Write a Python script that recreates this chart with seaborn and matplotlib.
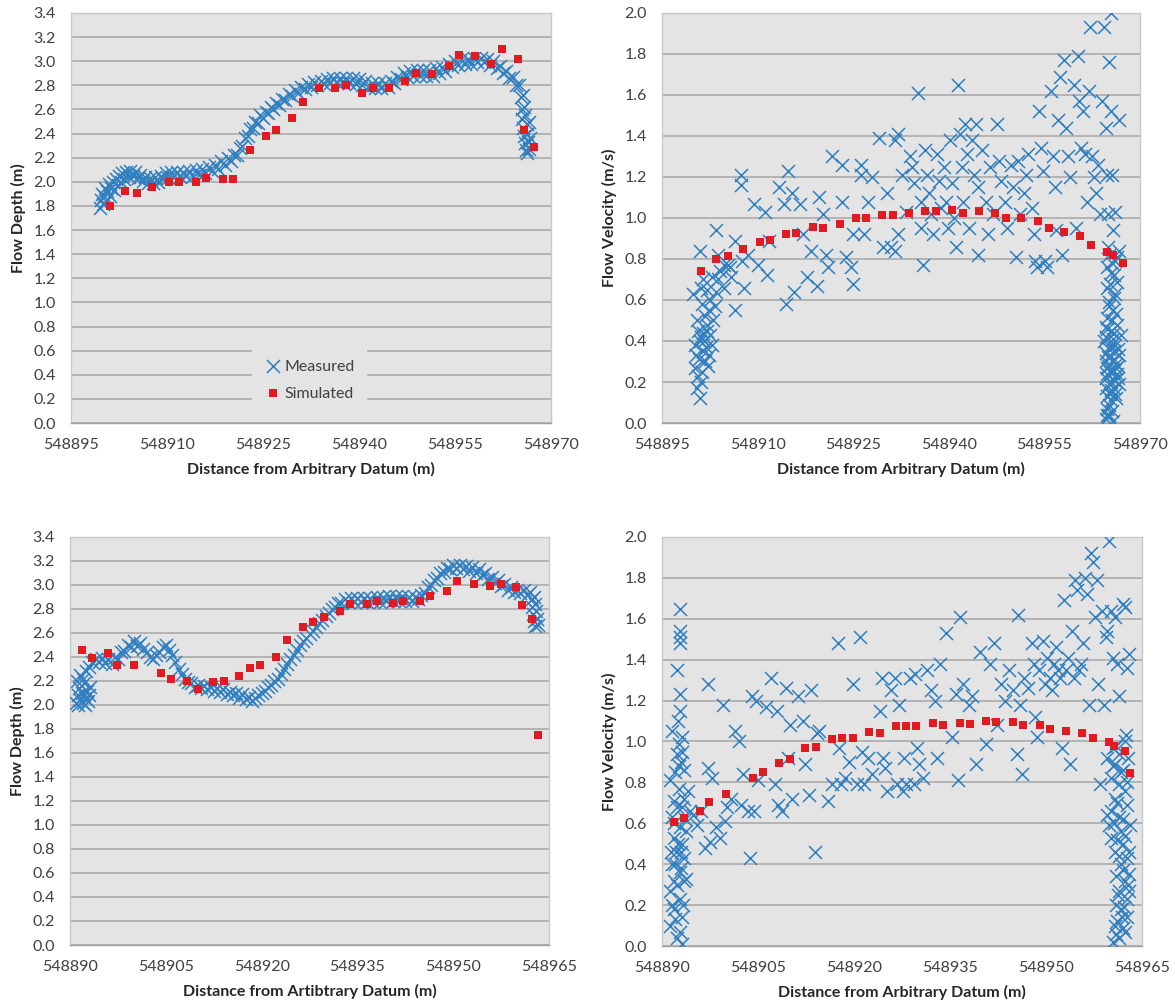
import matplotlib
matplotlib.use("Agg")
import matplotlib.pyplot as plt
import seaborn as sns
import pandas as pd
from matplotlib.ticker import FixedLocator, FormatStrFormatter

# ---------------- data ----------------
sim_x_top = [548901.1, 548903.5, 548905.3, 548907.7, 548910.3, 548911.9, 548914.5, 548916.1,
             548918.7, 548920.3, 548922.9, 548925.4, 548927.0, 548929.5, 548931.3, 548933.7,
             548936.3, 548938.0, 548940.5, 548942.2, 548944.7, 548947.2, 548948.9, 548951.4,
             548954.0, 548955.7, 548958.1, 548960.6, 548962.3, 548964.8, 548965.8, 548967.3]
tl_sim_depth = [1.80, 1.92, 1.91, 1.96, 2.00, 2.00, 2.00, 2.03, 2.02, 2.02, 2.26, 2.38, 2.43, 2.53,
                2.66, 2.78, 2.78, 2.80, 2.74, 2.78, 2.78, 2.84, 2.90, 2.89, 2.96, 3.05, 3.04, 2.98,
                3.10, 3.02, 2.43, 2.29]
tr_sim_vel = [0.74, 0.80, 0.815, 0.85, 0.885, 0.895, 0.92, 0.925, 0.955, 0.95, 0.97, 1.00, 1.00,
              1.014, 1.014, 1.024, 1.035, 1.032, 1.038, 1.025, 1.032, 1.025, 1.00, 1.00, 0.986,
              0.95, 0.93, 0.91, 0.87, 0.835, 0.82, 0.78]

sim_x_bot = [548891.8, 548893.4, 548895.9, 548897.4, 548900.0, 548904.2, 548905.8, 548908.3,
             548910.0, 548912.4, 548914.1, 548916.5, 548918.2, 548919.8, 548922.3, 548924.0,
             548926.5, 548928.1, 548929.7, 548932.3, 548933.9, 548936.5, 548938.1, 548940.6,
             548942.2, 548944.8, 548946.4, 548949.0, 548950.6, 548953.2, 548955.7, 548957.4,
             548959.8, 548960.7, 548962.4, 548963.2]
bl_sim_depth = [2.46, 2.39, 2.43, 2.33, 2.33, 2.27, 2.22, 2.20, 2.13, 2.19, 2.20, 2.24, 2.31, 2.33,
                2.40, 2.54, 2.65, 2.69, 2.73, 2.78, 2.84, 2.84, 2.87, 2.85, 2.87, 2.87, 2.91, 2.95,
                3.03, 3.01, 2.99, 3.01, 2.98, 2.83, 2.72, 1.75]
br_sim_vel = [0.607, 0.626, 0.662, 0.703, 0.741, 0.823, 0.852, 0.896, 0.916, 0.968, 0.971, 1.01,
              1.016, 1.019, 1.048, 1.043, 1.074, 1.074, 1.078, 1.091, 1.081, 1.092, 1.086, 1.10,
              1.094, 1.097, 1.083, 1.079, 1.063, 1.053, 1.04, 1.019, 0.999, 0.978, 0.955, 0.847]

tl_meas = [
    (548899.6, 1.78), (548899.7, 1.85), (548899.8, 1.90), (548900.0, 1.82), (548900.2, 1.88),
    (548900.3, 1.95), (548900.5, 1.84), (548900.7, 1.92), (548900.9, 1.98), (548901.1, 1.88),
    (548901.3, 1.95), (548901.5, 2.00), (548901.8, 1.93), (548902.0, 2.02), (548902.3, 1.97),
    (548902.5, 2.05), (548902.8, 2.00), (548903.0, 2.07), (548903.3, 2.02), (548903.6, 2.08),
    (548904.0, 2.04), (548904.3, 2.09), (548904.7, 2.05), (548905.0, 2.08), (548905.4, 2.03),
    (548905.8, 2.06), (548906.2, 2.01), (548906.6, 2.04), (548907.0, 1.99), (548907.4, 2.03),
    (548907.8, 1.99), (548908.2, 2.04), (548908.6, 2.00), (548909.0, 2.05), (548909.4, 2.02),
    (548909.8, 2.07), (548910.2, 2.03), (548910.6, 2.08), (548911.0, 2.04), (548911.5, 2.08),
    (548912.0, 2.04), (548912.5, 2.08), (548913.0, 2.05), (548913.5, 2.09), (548914.0, 2.05),
    (548914.5, 2.10), (548915.0, 2.06), (548915.5, 2.11), (548916.0, 2.07), (548916.5, 2.12),
    (548917.0, 2.09), (548917.5, 2.14), (548918.0, 2.11), (548918.5, 2.17), (548919.0, 2.14),
    (548919.5, 2.20), (548920.0, 2.17), (548920.5, 2.22), (548921.0, 2.22), (548921.4, 2.28),
    (548921.8, 2.30), (548922.2, 2.36), (548922.6, 2.38), (548923.0, 2.44), (548923.4, 2.45),
    (548923.8, 2.50), (548924.2, 2.49), (548924.6, 2.55), (548925.0, 2.53), (548925.4, 2.58),
    (548925.8, 2.57), (548926.2, 2.62), (548926.6, 2.60), (548927.0, 2.65), (548927.5, 2.64),
    (548928.0, 2.69), (548928.5, 2.68), (548929.0, 2.73), (548929.5, 2.71), (548930.0, 2.76),
    (548930.5, 2.74), (548931.0, 2.79), (548931.5, 2.77), (548932.0, 2.81), (548932.5, 2.79),
    (548933.0, 2.83), (548933.5, 2.80), (548934.0, 2.84), (548934.5, 2.81), (548935.0, 2.85),
    (548935.5, 2.82), (548936.0, 2.86), (548936.5, 2.82), (548937.0, 2.86), (548937.5, 2.82),
    (548938.0, 2.86), (548938.5, 2.82), (548939.0, 2.86), (548939.5, 2.81), (548940.0, 2.85),
    (548940.5, 2.80), (548941.0, 2.84), (548941.5, 2.78), (548942.0, 2.82), (548942.5, 2.78),
    (548943.0, 2.82), (548943.5, 2.78), (548944.0, 2.82), (548944.5, 2.79), (548945.0, 2.84),
    (548945.5, 2.82), (548946.0, 2.87), (548946.5, 2.85), (548947.0, 2.90), (548947.5, 2.87),
    (548948.0, 2.92), (548948.5, 2.88), (548949.0, 2.93), (548949.5, 2.88), (548950.0, 2.93),
    (548950.5, 2.88), (548951.0, 2.93), (548951.5, 2.88), (548952.0, 2.94), (548952.5, 2.90),
    (548953.0, 2.95), (548953.5, 2.92), (548954.0, 2.98), (548954.5, 2.95), (548955.0, 3.00),
    (548955.5, 2.97), (548956.0, 3.02), (548956.5, 2.98), (548957.0, 3.02), (548957.5, 2.98),
    (548958.0, 3.03), (548958.5, 2.99), (548959.0, 3.03), (548959.5, 2.99), (548960.0, 3.02),
    (548960.5, 2.97), (548961.0, 3.00), (548961.5, 2.94), (548962.0, 2.96), (548962.5, 2.90),
    (548963.0, 2.92), (548963.5, 2.86), (548964.0, 2.87), (548964.5, 2.80), (548965.0, 2.80),
    (548965.3, 2.70), (548965.6, 2.72), (548965.4, 2.60), (548965.8, 2.62), (548965.5, 2.52),
    (548966.0, 2.55), (548965.7, 2.45), (548966.2, 2.48), (548965.8, 2.38), (548966.3, 2.40),
    (548966.0, 2.32), (548966.4, 2.33), (548966.1, 2.26), (548966.5, 2.27), (548966.3, 2.24),
    (548966.6, 2.50), (548966.7, 2.36)]

tr_meas = [
    (548901.0, 0.12), (548900.5, 0.17), (548901.1, 0.20), (548900.2, 0.27), (548900.8, 0.31),
    (548901.4, 0.35), (548900.2, 0.38), (548901.1, 0.42), (548902.0, 0.45), (548900.5, 0.50),
    (548901.7, 0.52), (548902.6, 0.43), (548902.9, 0.38), (548902.3, 0.33), (548901.7, 0.30),
    (548899.9, 0.63), (548901.1, 0.66), (548901.0, 0.84), (548902.6, 0.60), (548903.5, 0.64),
    (548902.9, 0.71), (548904.1, 0.74), (548904.7, 0.77), (548903.5, 0.94), (548903.8, 0.82),
    (548905.3, 0.77), (548905.9, 0.71), (548904.7, 0.66), (548906.5, 0.55), (548905.6, 0.76),
    (548906.5, 0.89), (548907.6, 0.79), (548907.8, 0.66), (548907.4, 1.21), (548907.4, 1.16),
    (548908.5, 0.82), (548909.4, 1.07), (548910.0, 0.77), (548911.2, 1.03), (548911.5, 0.72),
    (548911.8, 0.89), (548913.3, 1.15), (548914.2, 1.07), (548914.5, 0.58), (548914.8, 1.23),
    (548915.4, 1.12), (548915.7, 0.64), (548916.6, 1.07), (548917.2, 0.92), (548917.8, 0.71),
    (548918.4, 0.84), (548919.3, 0.67), (548919.6, 1.10), (548920.2, 1.02), (548920.8, 0.82),
    (548921.1, 0.76), (548921.7, 1.30), (548923.2, 1.26), (548923.2, 1.08), (548923.8, 0.81),
    (548924.7, 0.76), (548925.0, 0.68), (548925.0, 0.92), (548926.2, 1.26), (548926.2, 1.21),
    (548926.7, 0.92), (548927.3, 1.08), (548927.9, 1.20), (548929.1, 1.39), (548929.7, 0.86),
    (548930.3, 1.12), (548930.9, 0.86), (548931.5, 1.38), (548932.1, 1.41), (548931.5, 0.84),
    (548932.1, 0.92), (548932.7, 1.21), (548933.3, 1.03), (548933.9, 1.30), (548934.2, 1.25),
    (548934.5, 1.17), (548935.1, 1.61), (548935.7, 1.08), (548935.7, 0.95), (548936.0, 0.77),
    (548936.3, 1.33), (548936.6, 1.21), (548936.9, 1.12), (548937.2, 1.02), (548937.5, 0.92),
    (548938.1, 1.31), (548938.4, 1.18), (548938.7, 1.05), (548939.3, 1.25), (548939.6, 1.08),
    (548939.9, 0.95), (548940.2, 1.38), (548940.5, 1.17), (548940.8, 1.00), (548941.4, 1.65),
    (548941.1, 0.86), (548941.7, 1.41), (548942.0, 1.25), (548942.3, 1.08), (548942.6, 1.46),
    (548942.9, 1.31), (548943.2, 0.95), (548943.7, 1.38), (548944.0, 1.21), (548944.3, 1.46),
    (548944.6, 0.82), (548944.6, 1.15), (548945.2, 1.33), (548945.8, 1.08), (548946.1, 0.92),
    (548946.4, 1.25), (548947.0, 1.02), (548947.6, 1.46), (548947.9, 1.28), (548948.2, 1.18),
    (548948.8, 1.08), (548949.1, 0.95), (548949.7, 1.26), (548950.0, 1.15), (548950.6, 0.81),
    (548950.9, 1.28), (548951.2, 1.02), (548951.8, 1.12), (548952.1, 1.21), (548952.4, 1.31),
    (548953.0, 1.05), (548953.3, 0.92), (548953.6, 0.79), (548953.9, 0.76), (548954.2, 1.52),
    (548954.5, 1.34), (548954.8, 1.23), (548955.1, 0.79), (548955.4, 0.76), (548956.0, 1.62),
    (548956.3, 1.30), (548956.6, 1.15), (548956.9, 0.94), (548957.2, 1.48), (548957.5, 1.69),
    (548957.8, 0.82), (548958.1, 1.77), (548958.4, 1.44), (548958.7, 1.30), (548959.0, 1.20),
    (548959.6, 1.65), (548959.9, 0.95), (548960.2, 1.79), (548960.5, 1.57), (548960.8, 1.34),
    (548961.1, 1.52), (548961.4, 1.31), (548961.7, 1.08), (548962.0, 1.62), (548962.2, 1.93),
    (548962.5, 1.30), (548962.8, 1.20), (548963.1, 1.12), (548963.4, 1.26), (548963.7, 1.02),
    (548964.0, 1.57), (548964.3, 1.93), (548964.6, 1.44), (548964.9, 1.21), (548965.0, 1.02),
    (548965.2, 1.76), (548965.4, 2.00), (548965.5, 1.52), (548965.6, 1.21), (548965.8, 0.94),
    (548966.1, 1.03), (548966.7, 1.48),
    (548964.6, 0.02), (548965.2, 0.04), (548964.9, 0.07), (548965.5, 0.11), (548966.1, 0.14),
    (548964.6, 0.17), (548965.5, 0.20), (548966.4, 0.24), (548964.9, 0.27), (548965.8, 0.30),
    (548966.7, 0.33), (548965.2, 0.36), (548966.1, 0.38), (548964.6, 0.42), (548965.5, 0.45),
    (548966.4, 0.48), (548964.9, 0.51), (548965.8, 0.55), (548965.2, 0.59), (548966.1, 0.63),
    (548964.9, 0.66), (548966.4, 0.69), (548965.5, 0.73), (548964.9, 0.76), (548966.1, 0.79),
    (548965.2, 0.82), (548966.7, 0.84), (548964.6, 0.22), (548966.7, 0.19), (548965.0, 0.32),
    (548966.2, 0.29), (548964.8, 0.04), (548965.8, 0.01), (548964.3, 0.40), (548967.0, 0.43),
    (548965.3, 0.25), (548965.9, 0.35), (548964.7, 0.30), (548966.0, 0.21), (548965.4, 0.16),
    (548965.7, 0.41), (548966.3, 0.12), (548965.1, 0.09),
    (548965.0, 0.03), (548965.6, 0.06), (548964.8, 0.13), (548966.0, 0.17), (548965.2, 0.19),
    (548966.5, 0.22), (548964.8, 0.24), (548965.6, 0.26), (548966.2, 0.27), (548965.0, 0.28),
    (548965.9, 0.31), (548964.7, 0.34), (548966.5, 0.36), (548965.4, 0.38), (548966.0, 0.44),
    (548964.9, 0.46), (548965.6, 0.50), (548966.3, 0.53), (548965.1, 0.57), (548965.9, 0.61),
    (548965.3, 0.68), (548966.0, 0.72), (548965.6, 0.78), (548966.4, 0.81), (548965.0, 0.86),
    (548965.7, 0.25), (548965.3, 0.14), (548966.6, 0.28), (548964.6, 0.47),
    (548900.4, 0.33), (548900.9, 0.40), (548901.5, 0.44), (548902.1, 0.48), (548901.3, 0.25),
    (548900.7, 0.23), (548901.9, 0.37), (548902.4, 0.55), (548901.2, 0.58), (548900.6, 0.45),
    (548901.6, 0.40), (548902.2, 0.28), (548903.0, 0.50), (548903.3, 0.57), (548902.0, 0.65),
    (548901.4, 0.70), (548903.8, 0.70)]

bl_meas = [
    (548891.0, 2.02), (548891.2, 2.08), (548891.4, 2.14), (548891.6, 2.04), (548891.8, 2.10),
    (548892.0, 2.02), (548892.2, 2.18), (548892.4, 2.06), (548892.6, 2.12), (548892.8, 2.03),
    (548891.1, 2.20), (548891.5, 2.25), (548892.0, 2.22), (548892.5, 2.28), (548893.0, 2.08),
    (548893.2, 2.15), (548891.3, 2.00), (548892.3, 2.00), (548893.0, 2.32), (548893.5, 2.36),
    (548894.0, 2.38), (548894.5, 2.36), (548895.0, 2.39), (548895.5, 2.35), (548896.0, 2.38),
    (548896.5, 2.34), (548897.0, 2.40), (548897.5, 2.38), (548898.0, 2.44), (548898.5, 2.45),
    (548899.0, 2.50), (548899.5, 2.48), (548900.0, 2.53), (548900.5, 2.49), (548901.0, 2.52),
    (548901.5, 2.47), (548902.0, 2.44), (548902.5, 2.40), (548903.0, 2.38), (548903.5, 2.42),
    (548904.0, 2.44), (548904.5, 2.48), (548905.0, 2.50), (548905.5, 2.46), (548906.0, 2.42),
    (548906.5, 2.36), (548907.0, 2.30), (548907.5, 2.26), (548908.0, 2.22), (548908.5, 2.19),
    (548909.0, 2.18), (548909.5, 2.15), (548910.0, 2.17), (548910.5, 2.14), (548911.0, 2.16),
    (548911.5, 2.13), (548912.0, 2.15), (548912.5, 2.12), (548913.0, 2.14), (548913.5, 2.11),
    (548914.0, 2.13), (548914.5, 2.09), (548915.0, 2.11), (548915.5, 2.08), (548916.0, 2.10),
    (548916.5, 2.06), (548917.0, 2.09), (548917.5, 2.05), (548918.0, 2.07), (548918.5, 2.03),
    (548919.0, 2.06), (548919.5, 2.08), (548920.0, 2.10), (548920.5, 2.12), (548921.0, 2.15),
    (548921.5, 2.17), (548922.0, 2.20), (548922.5, 2.22), (548923.0, 2.26), (548923.5, 2.30),
    (548924.0, 2.34), (548924.5, 2.38), (548925.0, 2.42), (548925.5, 2.46), (548926.0, 2.50),
    (548926.5, 2.53), (548927.0, 2.56), (548927.5, 2.59), (548928.0, 2.62), (548928.5, 2.65),
    (548929.0, 2.68), (548929.5, 2.71), (548930.0, 2.74), (548930.5, 2.77), (548931.0, 2.80),
    (548931.5, 2.82), (548932.0, 2.85), (548932.5, 2.85), (548933.0, 2.88), (548933.5, 2.86),
    (548934.0, 2.89), (548934.5, 2.86), (548935.0, 2.89), (548935.5, 2.86), (548936.0, 2.89),
    (548936.5, 2.86), (548937.0, 2.89), (548937.5, 2.86), (548938.0, 2.90), (548938.5, 2.86),
    (548939.0, 2.90), (548939.5, 2.87), (548940.0, 2.91), (548940.5, 2.87), (548941.0, 2.91),
    (548941.5, 2.87), (548942.0, 2.91), (548942.5, 2.87), (548943.0, 2.90), (548943.5, 2.87),
    (548944.0, 2.90), (548944.5, 2.88), (548945.0, 2.92), (548945.5, 2.93), (548946.0, 2.98),
    (548946.5, 3.00), (548947.0, 3.04), (548947.5, 3.06), (548948.0, 3.10), (548948.5, 3.11),
    (548949.0, 3.14), (548949.5, 3.13), (548950.0, 3.17), (548950.5, 3.14), (548951.0, 3.17),
    (548951.5, 3.13), (548952.0, 3.16), (548952.5, 3.12), (548953.0, 3.15), (548953.5, 3.10),
    (548954.0, 3.13), (548954.5, 3.08), (548955.0, 3.10), (548955.5, 3.05), (548956.0, 3.07),
    (548956.5, 3.02), (548957.0, 3.04), (548957.5, 2.99), (548958.0, 3.01), (548958.5, 2.96),
    (548959.0, 2.98), (548959.5, 2.94), (548960.0, 2.96), (548960.5, 2.93), (548961.0, 2.96),
    (548961.5, 2.92), (548962.0, 2.94), (548962.3, 2.88), (548962.6, 2.90), (548962.4, 2.82),
    (548962.8, 2.84), (548962.5, 2.76), (548963.0, 2.78), (548962.6, 2.70), (548963.1, 2.72),
    (548962.8, 2.66), (548963.2, 2.67)]

br_meas = [
    (548892.8, 1.65), (548892.8, 1.54), (548892.8, 1.51), (548892.8, 1.48), (548892.4, 1.35),
    (548892.8, 1.23), (548892.8, 1.15), (548892.5, 1.10), (548893.1, 1.02), (548892.6, 0.99),
    (548893.1, 0.95), (548892.4, 0.94), (548893.4, 0.86), (548891.3, 0.81), (548892.6, 0.77),
    (548894.0, 0.76), (548891.9, 0.71), (548893.1, 0.68), (548894.3, 0.66), (548891.6, 0.63),
    (548892.8, 0.58), (548893.7, 0.56), (548891.9, 0.53), (548893.1, 0.50), (548892.2, 0.46),
    (548893.4, 0.43), (548891.6, 0.40), (548892.8, 0.36), (548893.7, 0.33), (548891.9, 0.32),
    (548891.3, 0.27), (548892.8, 0.23), (548891.9, 0.18), (548893.1, 0.14), (548891.3, 0.10),
    (548892.8, 0.07), (548893.1, 0.01), (548892.4, 0.04), (548893.4, 0.32), (548892.5, 0.50),
    (548892.0, 0.85), (548893.0, 0.90), (548891.6, 1.05), (548893.6, 0.62), (548892.3, 0.30),
    (548891.5, 0.20), (548893.3, 0.20), (548892.0, 0.40), (548893.0, 0.38), (548891.8, 0.60),
    (548892.4, 0.68), (548893.5, 0.72), (548891.4, 0.46), (548892.9, 0.46), (548892.0, 0.13),
    (548892.6, 0.88),
    (548894.9, 0.64), (548895.5, 0.59), (548896.1, 0.66), (548896.7, 0.48), (548897.2, 1.28),
    (548897.2, 0.87), (548897.5, 0.51), (548897.8, 0.82), (548898.4, 0.58), (548899.0, 0.53),
    (548899.6, 1.18), (548899.9, 0.61), (548900.2, 0.68), (548900.8, 0.72), (548901.4, 1.05),
    (548902.0, 1.00), (548902.3, 0.69), (548902.6, 0.84), (548903.5, 0.66), (548903.8, 0.43),
    (548904.1, 1.22), (548904.7, 1.20), (548904.4, 0.66), (548905.0, 0.81), (548906.2, 1.17),
    (548907.1, 1.31), (548907.6, 0.79), (548907.9, 1.15), (548908.2, 0.69), (548908.8, 0.66),
    (548909.4, 1.26), (548909.7, 0.92), (548910.0, 1.08), (548910.3, 0.72), (548911.2, 1.22),
    (548912.1, 1.10), (548912.4, 0.89), (548913.0, 0.74), (548913.3, 1.25), (548913.9, 0.46),
    (548914.2, 1.04), (548914.5, 1.05), (548916.0, 0.71), (548916.6, 0.79), (548917.5, 1.48),
    (548917.7, 0.97), (548918.0, 0.79), (548918.6, 0.82), (548919.2, 0.90), (548919.8, 1.28),
    (548920.4, 0.79), (548921.0, 1.51), (548921.3, 0.95), (548921.6, 0.79), (548922.2, 0.92),
    (548922.8, 0.84), (548924.0, 1.15), (548924.3, 1.31), (548924.6, 0.92), (548924.9, 0.87),
    (548925.2, 0.76), (548925.8, 1.25), (548926.4, 1.31), (548926.7, 0.79), (548927.0, 1.18),
    (548927.6, 0.76), (548927.8, 0.92), (548928.1, 0.79), (548928.7, 1.31), (548929.3, 0.79),
    (548929.6, 1.33), (548929.9, 0.97), (548930.2, 0.89), (548930.8, 0.82), (548931.4, 1.35),
    (548932.0, 1.25), (548932.6, 1.20), (548932.9, 0.92), (548933.5, 1.38), (548934.4, 1.53),
    (548935.3, 1.02), (548935.9, 1.23), (548936.2, 0.81), (548936.5, 1.61), (548937.1, 1.28),
    (548937.9, 1.18), (548938.5, 1.22), (548939.1, 0.89), (548939.7, 1.44), (548940.6, 0.99),
    (548941.2, 1.38), (548941.8, 1.48), (548942.4, 1.08), (548943.0, 1.28), (548943.6, 1.20),
    (548944.2, 1.35), (548944.8, 1.25), (548945.4, 0.94), (548945.7, 1.62), (548946.0, 1.18),
    (548946.3, 0.84), (548946.6, 1.31), (548947.2, 1.26), (548947.8, 1.48), (548948.1, 1.38),
    (548948.3, 1.12), (548948.6, 1.02), (548948.9, 1.35), (548949.5, 1.49), (548949.8, 1.28),
    (548950.1, 1.41), (548950.7, 1.31), (548951.0, 1.25), (548951.3, 1.38), (548951.6, 1.46),
    (548951.9, 1.35), (548952.2, 1.31), (548952.5, 0.97), (548952.8, 1.69), (548953.1, 1.35),
    (548953.4, 1.41), (548953.7, 0.89), (548954.0, 1.54), (548954.3, 1.31), (548954.6, 1.79),
    (548954.9, 1.74), (548955.2, 1.35), (548955.5, 1.38), (548955.8, 1.48), (548956.1, 1.80),
    (548956.4, 1.72), (548956.7, 1.18), (548957.0, 1.92), (548957.3, 1.88), (548957.6, 1.61),
    (548957.9, 1.79), (548958.2, 1.28), (548958.4, 0.79), (548958.7, 1.64), (548959.0, 1.18),
    (548959.3, 1.51), (548959.6, 1.54), (548959.9, 1.98), (548960.2, 1.64), (548960.5, 1.41),
    (548960.8, 1.61), (548961.1, 1.38), (548961.4, 1.22), (548962.0, 1.67), (548962.3, 1.66),
    (548962.6, 1.36), (548962.9, 1.43),
    (548960.5, 0.02), (548961.4, 0.04), (548962.3, 0.07), (548960.8, 0.10), (548962.6, 0.14),
    (548961.7, 0.18), (548962.6, 0.23), (548961.4, 0.27), (548962.3, 0.32), (548962.9, 0.35),
    (548961.7, 0.40), (548962.6, 0.43), (548960.8, 0.46), (548962.0, 0.50), (548960.2, 0.53),
    (548961.7, 0.56), (548959.9, 0.59), (548961.4, 0.63), (548960.2, 0.66), (548962.6, 0.69),
    (548960.8, 0.72), (548962.3, 0.76), (548961.4, 0.79), (548960.2, 0.82), (548962.0, 0.86),
    (548960.8, 0.89), (548959.6, 0.92), (548961.4, 0.94), (548960.5, 0.97), (548962.3, 1.00),
    (548963.2, 0.59), (548961.1, 0.12), (548962.9, 0.27), (548959.6, 0.64),
    (548961.0, 0.06), (548962.0, 0.09), (548961.8, 0.14), (548960.9, 0.20), (548962.2, 0.19),
    (548961.2, 0.25), (548962.8, 0.30), (548961.0, 0.34), (548962.1, 0.37), (548961.4, 0.44),
    (548962.9, 0.46), (548961.1, 0.52), (548962.4, 0.54), (548960.6, 0.60), (548962.0, 0.62),
    (548961.1, 0.70), (548962.7, 0.80), (548961.7, 0.85), (548962.8, 0.92), (548961.0, 0.98),
    (548962.5, 1.03), (548960.4, 0.88)]

x_ticks_top = [548895, 548910, 548925, 548940, 548955, 548970]
x_ticks_bot = [548890, 548905, 548920, 548935, 548950, 548965]
depth_ticks = [0.0, 0.2, 0.4, 0.6, 0.8, 1.0, 1.2, 1.4, 1.6, 1.8, 2.0, 2.2, 2.4, 2.6, 2.8, 3.0, 3.2, 3.4]
vel_ticks = [0.0, 0.2, 0.4, 0.6, 0.8, 1.0, 1.2, 1.4, 1.6, 1.8, 2.0]

# ---------------- style ----------------
sns.set_style("white")
plt.rcParams['font.family'] = ['Lato', 'DejaVu Sans']

BLUE = '#2f7fc1'
RED = '#e01b22'
BG = '#e4e4e4'
GRID = '#b3b3b3'
TXT = '#404040'

fig = plt.figure(figsize=(11.75, 10.05), dpi=100)
fig.patch.set_facecolor('white')

ax_tl = fig.add_axes([0.0604, 0.5791, 0.4085, 0.4080])
ax_tr = fig.add_axes([0.5634, 0.5791, 0.4068, 0.4080])
ax_bl = fig.add_axes([0.0596, 0.0597, 0.4077, 0.4060])
ax_br = fig.add_axes([0.5634, 0.0587, 0.4085, 0.4070])


def style(ax, xticks, yticks, ylabel, xlabel):
    ax.set_facecolor(BG)
    ax.set_xlim(xticks[0], xticks[-1])
    ax.set_ylim(yticks[0], yticks[-1])
    ax.xaxis.set_major_locator(FixedLocator(xticks))
    ax.set_xticklabels([str(t) for t in xticks])
    ax.yaxis.set_major_locator(FixedLocator(yticks))
    ax.yaxis.set_major_formatter(FormatStrFormatter('%.1f'))
    ax.grid(axis='y', color=GRID, lw=1.4)
    ax.grid(axis='x', visible=False)
    ax.set_axisbelow(True)
    for s in ax.spines.values():
        s.set_color('#c8c8c8')
        s.set_linewidth(1.0)
    ax.spines['bottom'].set_color('#a0a0a0')
    ax.tick_params(axis='x', length=4, width=1, color='#a0a0a0', pad=7,
                   labelsize=11.5, labelcolor=TXT, direction='out')
    ax.tick_params(axis='y', length=0, pad=11, labelsize=11.5, labelcolor=TXT)
    ax.set_xlabel(xlabel, fontsize=11.5, fontweight='bold', color='#262626', labelpad=7)
    ax.set_ylabel(ylabel, fontsize=11.5, fontweight='bold', color='#262626', labelpad=5)


def draw(ax, meas, sim_x, sim_y, sq, legend=False):
    mdf = pd.DataFrame(meas, columns=['x', 'y'])
    sdf = pd.DataFrame({'x': sim_x, 'y': sim_y})
    sns.scatterplot(data=mdf, x='x', y='y', marker='x', color=BLUE, s=88, linewidth=1.1,
                    ax=ax, label='Measured' if legend else None, legend=legend, zorder=3)
    sns.scatterplot(data=sdf, x='x', y='y', marker='s', color=RED, s=sq, linewidth=0,
                    ax=ax, label='Simulated' if legend else None, legend=legend, zorder=4)


draw(ax_tl, tl_meas, sim_x_top, tl_sim_depth, 34, legend=True)
draw(ax_tr, tr_meas, sim_x_top, tr_sim_vel, 28)
draw(ax_bl, bl_meas, sim_x_bot, bl_sim_depth, 40)
draw(ax_br, br_meas, sim_x_bot, br_sim_vel, 34)

style(ax_tl, x_ticks_top, depth_ticks, 'Flow Depth (m)', 'Distance from Arbitrary Datum (m)')
style(ax_tr, x_ticks_top, vel_ticks, 'Flow Velocity (m/s)', 'Distance from Arbitrary Datum (m)')
style(ax_bl, x_ticks_bot, depth_ticks, 'Flow Depth (m)', 'Distance from Artibtrary Datum (m)')
style(ax_br, x_ticks_bot, vel_ticks, 'Flow Velocity (m/s)', 'Distance from Arbitrary Datum (m)')

leg = ax_tl.legend(loc='center', bbox_to_anchor=(0.496, 0.105), frameon=True, facecolor=BG,
                   edgecolor=BG, framealpha=1, fontsize=11.5, handletextpad=0.1,
                   labelspacing=0.8, borderpad=0.7, borderaxespad=0, handlelength=1.2)
for t in leg.get_texts():
    t.set_color(TXT)

fig.savefig('out.png', dpi=100, facecolor='white')
